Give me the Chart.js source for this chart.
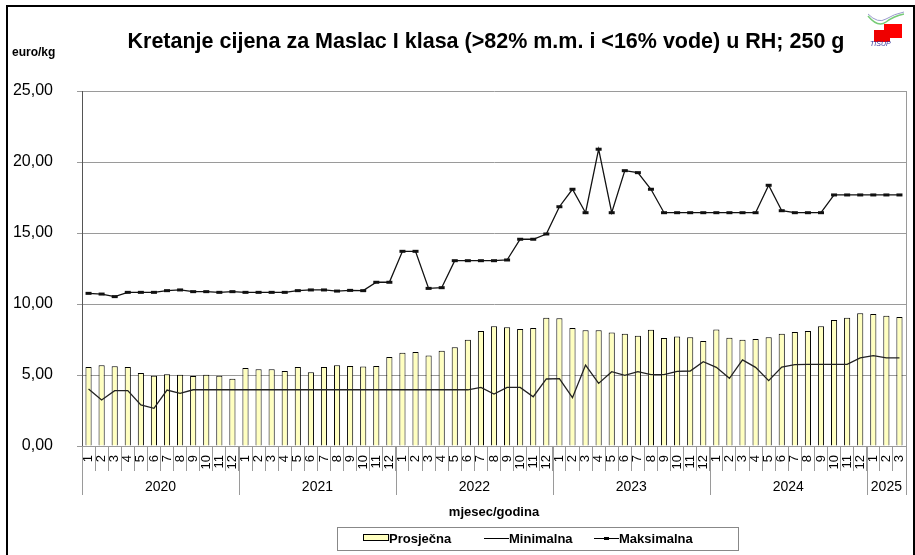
<!DOCTYPE html>
<html>
<head>
<meta charset="utf-8">
<script src="https://cdn.jsdelivr.net/npm/chart.js@4"></script>
<style>
  html, body { margin: 0; padding: 0; background: #fff; }
  #wrap { position: relative; width: 915px; height: 555px; overflow: hidden; font-family: "Liberation Sans", Arial, sans-serif; }
  #frame { position: absolute; left: 6px; top: 5px; width: 905px; height: 560px; border: 2px solid #000; }
  #title { position: absolute; left: 0; width: 972px; top: 29px; text-align: center; font-weight: bold; font-size: 21.5px; }
  #unit { position: absolute; left: 12px; top: 45px; font-weight: bold; font-size: 12px; }
  #xtitle { position: absolute; left: 82px; width: 824px; top: 504px; text-align: center; font-weight: bold; font-size: 13px; }
  #legend { position: absolute; left: 337px; top: 527px; width: 400px; height: 22px; border: 1px solid #888; background: #fff;
            font-weight: bold; font-size: 13px; }
  #legend span { position: absolute; top: 3px; }
  #logo { position: absolute; left: 864px; top: 8px; }
  canvas { position: absolute; left: 0; top: 0; }
</style>
</head>
<body>
<div id="wrap">
  <canvas id="myChart" width="915" height="555"></canvas>
  <div id="frame"></div>
  <div id="title">Kretanje cijena za Maslac I klasa (&gt;82% m.m. i &lt;16% vode) u RH; 250 g</div>
  <div id="unit">euro/kg</div>
  <div id="xtitle">mjesec/godina</div>
  <div id="legend">
    <span style="left:25px;top:6px;width:24px;height:5px;border:1px solid #000;background:#ffffc0"></span>
    <span style="left:51px">Prosječna</span>
    <span style="left:146px;top:10px;width:25px;height:0;border-top:1px solid #000"></span>
    <span style="left:171px">Minimalna</span>
    <span style="left:256px;top:10px;width:25px;height:0;border-top:1px solid #000"></span>
    <span style="left:266px;top:9px;width:5px;height:3px;background:#000"></span>
    <span style="left:281px">Maksimalna</span>
  </div>
  <svg id="logo" width="42" height="40">
    <path d="M4 8 Q14 20 22 14 T40 6" stroke="#7c7" stroke-width="1.5" fill="none"/>
    <path d="M4 6 Q14 16 22 11 T40 4" stroke="#99c" stroke-width="1" fill="none"/>
    <rect x="20" y="16" width="18" height="14" fill="#f00"/>
    <rect x="10" y="22" width="16" height="12" fill="#e00"/>
    <text x="6" y="38" font-size="7" fill="#339" font-style="italic">TISUP</text>
  </svg>
</div>
<script>
// Maslac I klasa, 250 g - cijene u euro/kg
const years = ['2020', '2021', '2022', '2023', '2024', '2025']
const monthsPerYear = [12, 12, 12, 12, 12, 3]
const monthLabels = []
monthsPerYear.forEach(n => { for (let m = 1; m <= n; m++) monthLabels.push(String(m)) })

const prosjecna = [
  5.56, 5.68, 5.61, 5.56, 5.14, 4.95, 5.05, 5.02, 4.93, 5.02, 4.95, 4.74,
  5.49, 5.40, 5.40, 5.28, 5.56, 5.19, 5.56, 5.68, 5.63, 5.59, 5.63, 6.27,
  6.57, 6.62, 6.38, 6.71, 6.95, 7.49, 8.10, 8.43, 8.36, 8.24, 8.31, 9.04,
  9.00, 8.31, 8.15, 8.15, 8.00, 7.91, 7.77, 8.19, 7.61, 7.72, 7.65, 7.39,
  8.21, 7.63, 7.49, 7.53, 7.65, 7.91, 8.03, 8.10, 8.43, 8.87, 9.04, 9.34,
  9.30, 9.18, 9.08
]
const minimalna = [
  4.01, 3.24, 3.90, 3.90, 2.89, 2.65, 3.94, 3.71, 3.96, 3.96, 3.96, 3.96,
  3.96, 3.96, 3.96, 3.96, 3.96, 3.96, 3.96, 3.96, 3.96, 3.96, 3.96, 3.96,
  3.96, 3.96, 3.96, 3.96, 3.96, 3.96, 4.13, 3.66, 4.13, 4.13, 3.47, 4.72,
  4.74, 3.40, 5.70, 4.41, 5.23, 4.98, 5.23, 5.02, 5.02, 5.26, 5.28, 5.94,
  5.54, 4.77, 6.06, 5.54, 4.60, 5.56, 5.73, 5.75, 5.75, 5.75, 5.75, 6.20,
  6.36, 6.20, 6.20
]
const maksimalna = [
  10.75, 10.70, 10.52, 10.82, 10.82, 10.82, 10.94, 10.99, 10.87, 10.87, 10.82, 10.87,
  10.82, 10.82, 10.82, 10.82, 10.94, 10.99, 10.99, 10.91, 10.96, 10.94, 11.53, 11.53,
  13.71, 13.71, 11.10, 11.15, 13.05, 13.05, 13.05, 13.05, 13.10, 14.56, 14.56, 14.93,
  16.85, 18.08, 16.43, 20.90, 16.43, 19.39, 19.25, 18.08, 16.43, 16.43, 16.43, 16.43,
  16.43, 16.43, 16.43, 16.43, 18.36, 16.57, 16.43, 16.43, 16.43, 17.68, 17.68, 17.68,
  17.68, 17.68, 17.68
]
const yTicks = [0, 5, 10, 15, 20, 25]

const FONT = '"Liberation Sans", Arial, sans-serif'
const GRID = '#9a9a9a'

// year row under the month labels, plus right edge of the plot
const yearAxis = {
  id: 'yearAxis',
  afterDraw(chart) {
    const { ctx, chartArea, scales: { x } } = chart
    const half = (x.getPixelForValue(1) - x.getPixelForValue(0)) / 2
    ctx.save()
    ctx.strokeStyle = GRID
    ctx.lineWidth = 1
    const r = Math.round(chartArea.right) + 0.5
    ctx.beginPath(); ctx.moveTo(r, chartArea.top); ctx.lineTo(r, chartArea.bottom); ctx.stroke()
    ctx.font = '14px ' + FONT
    ctx.fillStyle = '#000'
    ctx.textAlign = 'center'
    ctx.textBaseline = 'middle'
    let start = 0
    years.forEach((yr, k) => {
      const n = monthsPerYear[k]
      const left = x.getPixelForValue(start) - half
      const right = x.getPixelForValue(start + n - 1) + half
      ;[left, right].forEach(px => {
        const p = Math.round(px) + 0.5
        ctx.beginPath(); ctx.moveTo(p, chartArea.bottom); ctx.lineTo(p, chartArea.bottom + 49); ctx.stroke()
      })
      ctx.fillText(yr, (left + right) / 2, chartArea.bottom + 41)
      start += n
    })
    ctx.restore()
  }
}

const ctx = document.getElementById('myChart')
new Chart(ctx, {
  type: 'bar',
  data: {
    labels: monthLabels,
    datasets: [{
      type: 'line',
      label: 'Maksimalna',
      data: maksimalna,
      borderColor: '#111',
      borderWidth: 1.3,
      pointStyle: 'line',
      pointRadius: 3,
      pointBorderWidth: 3,
      pointBorderColor: '#111',
      tension: 0,
      order: 1
    }, {
      type: 'line',
      label: 'Minimalna',
      data: minimalna,
      borderColor: '#222',
      borderWidth: 1.3,
      pointRadius: 0,
      tension: 0,
      order: 2
    }, {
      label: 'Prosječna',
      data: prosjecna,
      backgroundColor: '#ffffc0',
      borderColor: '#000',
      borderWidth: 1,
      barPercentage: 0.47,
      categoryPercentage: 1,
      order: 3
    }]
  },
  options: {
    responsive: false,
    animation: false,
    layout: { padding: { top: 91, right: 9, left: 0, bottom: 0 } },
    plugins: {
      legend: { display: false },
      title: { display: false },
      tooltip: { enabled: false }
    },
    scales: {
      x: {
        afterFit: s => { s.height = 109 },
        border: { display: true, color: GRID },
        grid: { offset: true, drawOnChartArea: false, tickLength: 25, color: GRID },
        ticks: {
          autoSkip: false, maxRotation: 90, minRotation: 90, padding: -16,
          color: '#000', font: { family: FONT, size: 13 }
        }
      },
      y: {
        min: 0, max: 25,
        afterFit: s => { s.width = 82 },
        afterBuildTicks: s => { s.ticks = yTicks.map(v => ({ value: v })) },
        border: { display: true, color: '#555' },
        grid: { color: GRID, tickLength: 5 },
        ticks: {
          padding: 24, color: '#000', font: { family: FONT, size: 16 },
          callback: v => v.toFixed(2).replace('.', ',')
        }
      }
    }
  },
  plugins: [yearAxis]
})
</script>
</body>
</html>
